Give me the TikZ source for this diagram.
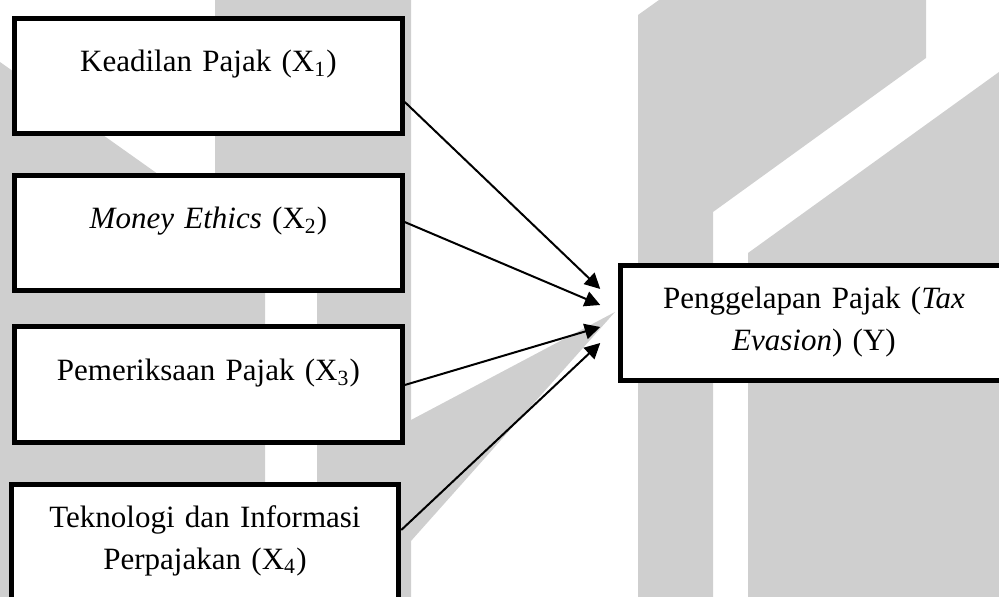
\documentclass[tikz,border=0pt]{standalone}
\usepackage{fontspec}
\setmainfont{Liberation Serif}
\usetikzlibrary{arrows.meta}
\definecolor{watermark}{RGB}{207,207,207}

\begin{document}
\begin{tikzpicture}[->,>={Triangle[length=6.2pt,width=6.2pt]},x=0.4pt,y=-0.4pt,
                    line width=0.8pt,
                    var/.style={draw,line width=2pt,fill=white,minimum width=155pt,
                                text width=146pt,align=center,inner ysep=0pt,
                                font=\fontsize{12.4pt}{16.8pt}\selectfont,
                                text height=21.4pt,text depth=24.6pt},
                    twoline/.style={text height=17pt,text depth=29pt}]
  \useasboundingbox (0,0) rectangle (999,597);

  % watermark in the background
  \fill[watermark] (0,62) -- (265,250) -- (265,597) -- (0,597) -- cycle;
  \fill[watermark] (215,0) -- (411,0) -- (411,597) -- (317,597) -- (317,247) -- (215,175) -- cycle;
  \fill[watermark] (411,420) -- (615,312) -- (411,541) -- cycle;
  \fill[watermark] (638,15) -- (659,0) -- (926,0) -- (926,58) -- (713,212) -- (713,597) -- (638,597) -- cycle;
  \fill[watermark] (748,253) -- (999,72) -- (999,597) -- (748,597) -- cycle;

  \node[var]                                     (kp) at (208.5,76) {Keadilan Pajak (X\textsubscript{1})};
  \node[var,node distance=62.7pt]                (me) [below of=kp] {\textit{Money Ethics} (X\textsubscript{2})};
  \node[var,node distance=60.7pt]                (pm) [below of=me] {Pemeriksaan Pajak (X\textsubscript{3})};
  \node[var,twoline,node distance=63pt]          (ti) [below of=pm,xshift=-1.4pt] {Teknologi dan Informasi\\Perpajakan (X\textsubscript{4})};
  \node[var,twoline]                             (pp) at (814,323.5) {Penggelapan Pajak (\textit{Tax}\\\textit{Evasion}) (Y)};

  \path ([shift={(0,26)}]kp.east)    edge ([shift={(-17.5,-34.5)}]pp.west);
  \path ([shift={(0,-10.7)}]me.east) edge ([shift={(-17.5,-18.5)}]pp.west);
  \path ([shift={(0,0.5)}]pm.east)   edge ([shift={(-17.5,3.5)}]pp.west);
  \path ([shift={(0,-12)}]ti.east)   edge ([shift={(-17.5,19.5)}]pp.west);

  % \path (me) edge [bend left] (pp);
\end{tikzpicture}
\end{document}
